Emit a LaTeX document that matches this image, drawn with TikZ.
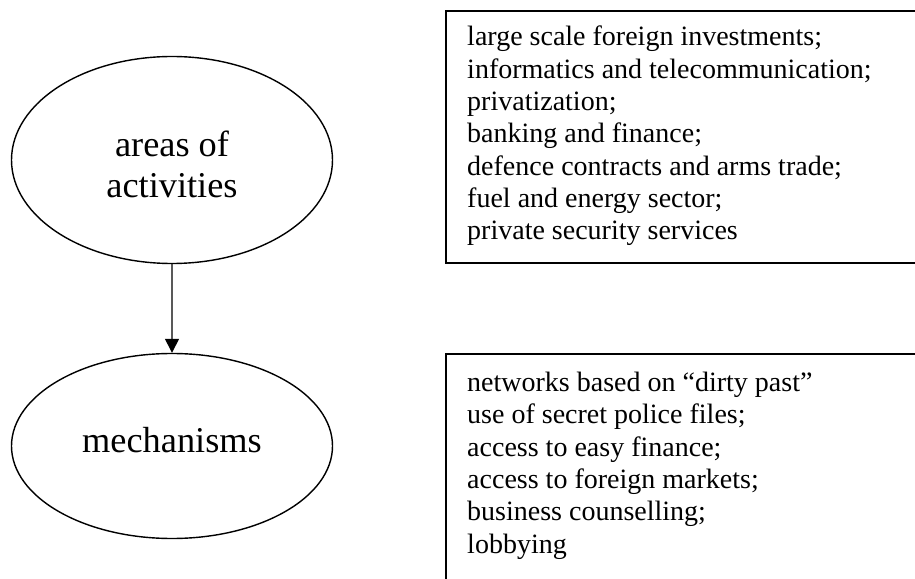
\documentclass[tikz,border=0pt]{standalone}
\usepackage{fontspec}
\setmainfont{Liberation Serif}
\usetikzlibrary{shapes.geometric,           % ellipses
           arrows.meta}                     % pointe de fleche
\begin{document}
\begin{tikzpicture}[scale=0.3,
  ell/.style={ellipse,draw,line width=1.2pt,minimum width=9.63cm,inner sep=0,align=center,font=\fontsize{31}{35}\selectfont},
  lst/.style={anchor=north west,inner sep=0,align=left,font=\fontsize{23.9}{27.6}\selectfont}]
\useasboundingbox(0,0)rectangle(91.5,-57.9);
\clip(0,0)rectangle(91.5,-57.9);
\node[ell,minimum height=6.21cm,text height=2.28cm](A)at(17.2,-16){areas of\\activities};
\node[ell,minimum height=5.55cm,text depth=0.39cm](M)at(17.2,-44.6){mechanisms};
\draw[line width=1.2pt,-{Triangle[length=0.42cm,width=0.42cm]}](A)--(M);
\draw[line width=1.2pt](44.6,-1.1)rectangle(95,-26.3);
\node[lst](L1)at(46.7,-2.6){large scale foreign investments;\\informatics and telecommunication;\\privatization;\\banking and finance;\\defence contracts and arms trade;\\fuel and energy sector;\\private security services};
\draw[line width=1.2pt](44.6,-35.4)rectangle(95,-60);
\node[lst](L2)at(46.7,-37.2){networks based on “dirty past”\\use of secret police files;\\access to easy finance;\\access to foreign markets;\\business counselling;\\lobbying};
\end{tikzpicture}
\end{document}
